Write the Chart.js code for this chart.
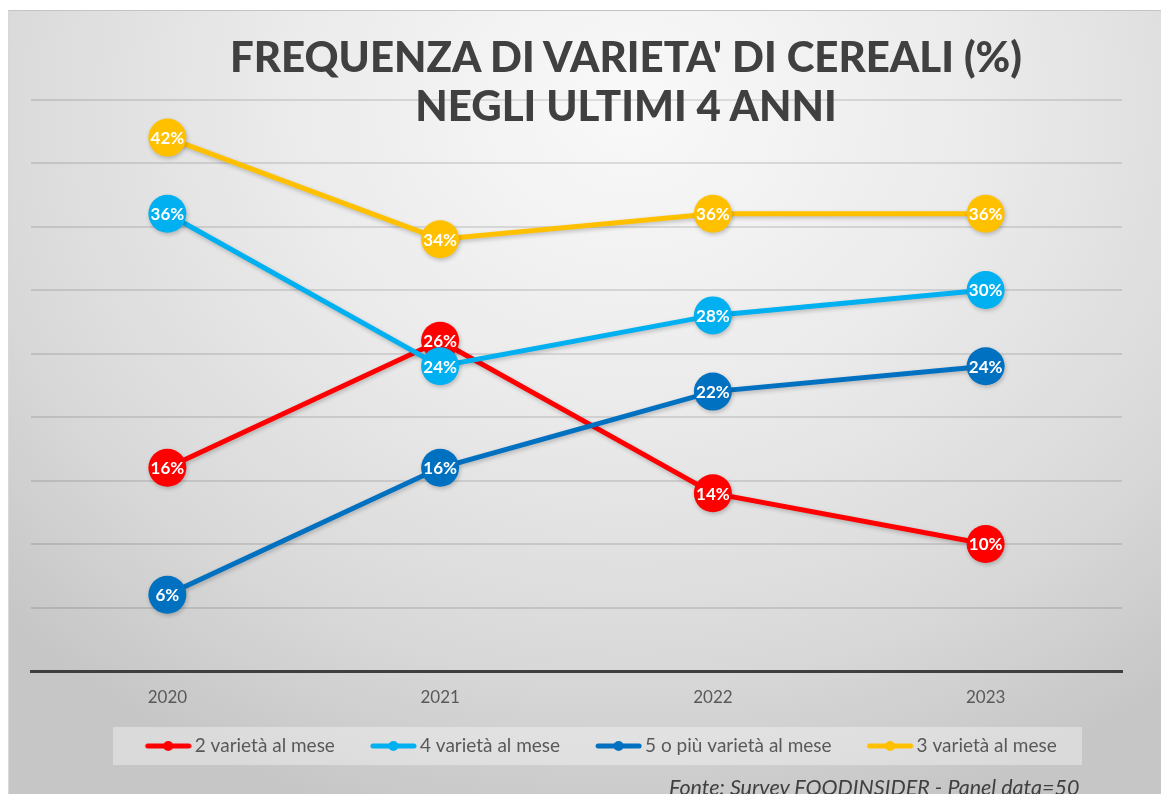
<!DOCTYPE html>
<html>
<head>
<meta charset="utf-8">
<script src="https://cdn.jsdelivr.net/npm/chart.js@4"></script>
<style>
  html, body { margin: 0; padding: 0; background: #fff; overflow: hidden; }
  #wrap { position: relative; width: 1161px; height: 794px; }
  #bg {
    position: absolute; left: 8px; top: 10px; right: 0; bottom: 0;
    border-top: 1px solid #c4c4c4; border-left: 1px solid #d8d8d8;
    background: radial-gradient(ellipse 75% 95% at 54% 12%, #f9f9f9 0%, #ebebeb 40%, #d9d9d9 75%, #c6c6c6 100%);
  }
  #chart { position: absolute; left: 0; top: 0; }
  #title {
    position: absolute; left: 176px; top: 32.4px; width: 900px;
    text-align: center; font: 900 42px/49px Lato, sans-serif; color: #404040;
  }
  #fonte {
    position: absolute; left: 669px; top: 774px;
    font: italic 21.5px/26px Lato, sans-serif; color: #404040; white-space: nowrap;
  }
</style>
</head>
<body>
<div id="wrap">
  <div id="bg"></div>
  <canvas id="chart" width="1161" height="794"></canvas>
  <div id="title">FREQUENZA DI VARIETA' DI CEREALI (%)<br>NEGLI ULTIMI 4 ANNI</div>
  <div id="fonte">Fonte: Survey FOODINSIDER - Panel data=50</div>
</div>
<script>
// dati
const anni = ['2020', '2021', '2022', '2023'];
const dueVarieta = [16, 26, 14, 10];
const quattroVarieta = [36, 24, 28, 30];
const cinqueVarieta = [6, 16, 22, 24];
const treVarieta = [42, 34, 36, 36];

const nomiSerie = ['2 varietà al mese', '4 varietà al mese', '5 o più varietà al mese', '3 varietà al mese'];
const colori = ['#FF0000', '#00B0F0', '#0070C0', '#FFC000'];

//legend marker: line with a dot, like excel (drawn in the right part of the image)
function marker(color) {
  const c = document.createElement('canvas');
  c.width = 60; c.height = 12;
  const g = c.getContext('2d');
  g.strokeStyle = color;
  g.lineWidth = 5;
  g.lineCap = 'round';
  g.beginPath(); g.moveTo(16, 6); g.lineTo(57, 6); g.stroke();
  g.fillStyle = color;
  g.beginPath(); g.arc(36.5, 6, 5, 0, Math.PI * 2); g.fill();
  return c;
}

function serie(i, data, order) {
  return {
    label: nomiSerie[i],
    data: data,
    order: order,
    borderColor: colori[i],
    backgroundColor: colori[i],
    borderWidth: 5,
    pointRadius: 19,
    pointHoverRadius: 19,
    pointBackgroundColor: colori[i],
    pointBorderWidth: 0,
    tension: 0,
    clip: false
  };
}

//white % labels inside the dots + a soft shadow
const etichette = {
  id: 'etichette',
  beforeDatasetDraw(chart) {
    const ctx = chart.ctx;
    ctx.save();
    ctx.shadowColor = 'rgba(0,0,0,0.22)';
    ctx.shadowBlur = 4;
    ctx.shadowOffsetX = 1;
    ctx.shadowOffsetY = 2;
  },
  afterDatasetDraw(chart, args) {
    const ctx = chart.ctx;
    ctx.restore();
    const ds = chart.data.datasets[args.index];
    ctx.save();
    ctx.font = 'bold 17px Lato, sans-serif';
    ctx.fillStyle = '#ffffff';
    ctx.textAlign = 'center';
    ctx.textBaseline = 'middle';
    args.meta.data.forEach((pt, i) => {
      ctx.fillText(ds.data[i] + '%', pt.x, pt.y + 1);
    });
    ctx.restore();
  }
};

//legend a bit to the right and with its light box behind
const boxLegenda = {
  id: 'boxLegenda',
  afterLayout(chart) {
    chart.legend.left += 21;
    chart.legend.right += 21;
  },
  beforeDraw(chart) {
    const lg = chart.legend;
    const cx = (lg.left + lg.right) / 2;
    const ctx = chart.ctx;
    ctx.save();
    ctx.fillStyle = 'rgba(255,255,255,0.35)';
    ctx.fillRect(cx - 484.5, 727, 969, 38);
    ctx.restore();
  }
};

const ctx = document.getElementById('chart');
new Chart(ctx, {
  type: 'line',
  data: {
    labels: anni,
    datasets: [
      serie(0, dueVarieta, 4),
      serie(1, quattroVarieta, 3),
      serie(2, cinqueVarieta, 2),
      serie(3, treVarieta, 1)
    ]
  },
  options: {
    responsive: false,
    animation: false,
    events: [],
    layout: { padding: { left: 31, right: 39, top: 99.5, bottom: 28.5 } },
    scales: {
      x: {
        offset: true,
        grid: { display: false, drawTicks: false },
        border: { display: true, color: '#3f3f3f', width: 3 },
        ticks: { color: '#595959', font: { family: 'Lato', size: 17 }, padding: 16 },
        afterFit(s) { s.height = 37; }
      },
      y: {
        min: 0,
        max: 45,
        ticks: { display: false, stepSize: 5 },
        grid: { color: 'rgba(0,0,0,0.11)', lineWidth: 2, drawTicks: false },
        border: { display: false },
        afterFit(s) { s.width = 0; }
      }
    },
    plugins: {
      title: { display: false },
      tooltip: { enabled: false },
      legend: {
        position: 'bottom',
        labels: {
          color: '#595959',
          font: { family: 'Lato', size: 19 },
          padding: 28.5,
          usePointStyle: true,
          pointStyleWidth: 47,
          generateLabels(chart) {
            return chart.data.datasets.map((ds, i) => ({
              text: ds.label,
              pointStyle: marker(ds.borderColor),
              fillStyle: ds.borderColor,
              strokeStyle: ds.borderColor,
              lineWidth: 0,
              fontColor: '#595959',
              hidden: false,
              datasetIndex: i
            }));
          }
        }
      }
    }
  },
  plugins: [etichette, boxLegenda]
});
</script>
</body>
</html>
